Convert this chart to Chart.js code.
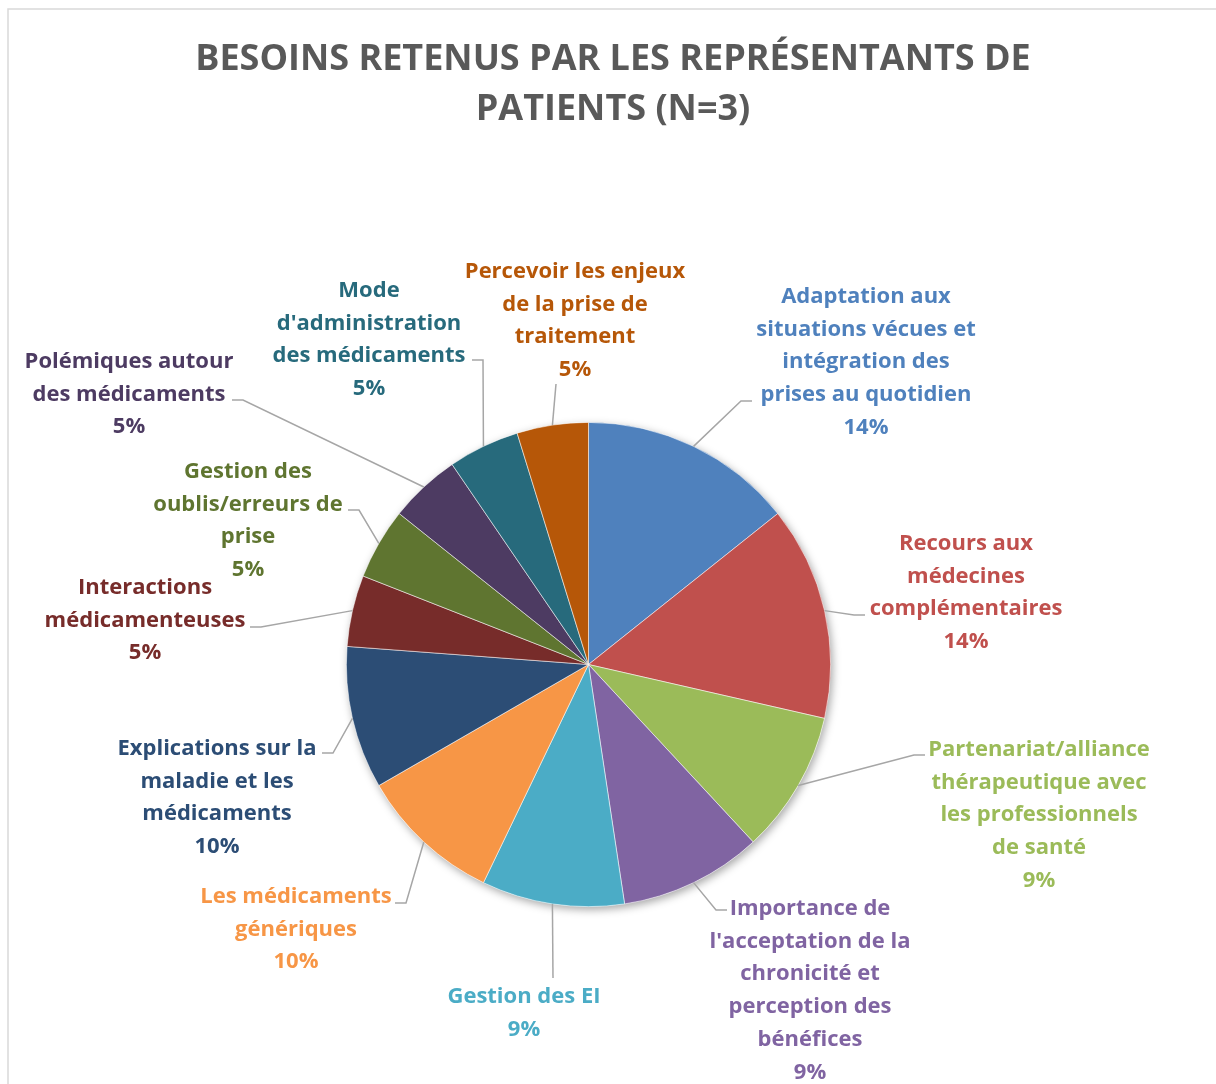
<!DOCTYPE html>
<html lang="fr">
<head>
<meta charset="utf-8">
<title>Besoins retenus par les représentants de patients</title>
<script src="https://cdn.jsdelivr.net/npm/chart.js@4.4.1/dist/chart.umd.min.js"></script>
<style>
  html, body { margin: 0; padding: 0; background: #fff; }
  #wrap { position: relative; width: 1216px; height: 1084px; }
</style>
</head>
<body>
<div id="wrap"><canvas id="besoinsChart"></canvas></div>
<script>
const titleLines = ["BESOINS RETENUS PAR LES REPRÉSENTANTS DE", "PATIENTS (N=3)"];

const categories = [
  ["Adaptation aux", "situations vécues et", "intégration des", "prises au quotidien"],
  ["Recours aux", "médecines", "complémentaires"],
  ["Partenariat/alliance", "thérapeutique avec", "les professionnels", "de santé"],
  ["Importance de", "l'acceptation de la", "chronicité et", "perception des", "bénéfices"],
  ["Gestion des EI"],
  ["Les médicaments", "génériques"],
  ["Explications sur la", "maladie et les", "médicaments"],
  ["Interactions", "médicamenteuses"],
  ["Gestion des", "oublis/erreurs de", "prise"],
  ["Polémiques autour", "des médicaments"],
  ["Mode", "d'administration", "des médicaments"],
  ["Percevoir les enjeux", "de la prise de", "traitement"],
];

// nombre de citations par besoin (total 21)
const counts = [3, 3, 2, 2, 2, 2, 2, 1, 1, 1, 1, 1];

// pourcentages tels qu'affichés sur le graphique
const percentLabels = ["14%", "14%", "9%", "9%", "9%", "10%", "10%", "5%", "5%", "5%", "5%", "5%"];

const sliceColors = [
  "#4F81BD", "#C0504D", "#9BBB59", "#8064A2", "#4BACC6", "#F79646",
  "#2C4D75", "#772C2A", "#5F7530", "#4D3B62", "#276A7C", "#B65708",
];

// where each label block sits (x centre, first baseline) and where its leader line attaches
// dir: -1 label right of elbow, +1 label left of elbow, 0 straight line
const labelLayout = [
  { x: 866, y: 303, anchor: [752, 401], dir: -1 },
  { x: 966, y: 550, anchor: [865, 615], dir: -1 },
  { x: 1039, y: 756, anchor: [925, 755], dir: -1 },
  { x: 810, y: 915, anchor: [727, 910], dir: -1 },
  { x: 524, y: 1003, anchor: [553, 978], dir: 0 },
  { x: 296, y: 903, anchor: [395, 903], dir: 1 },
  { x: 217, y: 755, anchor: [322, 753], dir: 1 },
  { x: 145, y: 594, anchor: [250, 627], dir: 1 },
  { x: 248, y: 478, anchor: [348, 510], dir: 1 },
  { x: 129, y: 368, anchor: [232, 400], dir: 1 },
  { x: 369, y: 297, anchor: [472, 360], dir: 1 },
  { x: 575, y: 278, anchor: [556, 384], dir: 0 },
];

const LABEL_FONT = "bold 22px 'Open Sans'";
const LINE_STEP = 32.7;

const pieDecor = {
  id: "pieDecor",
  beforeDraw(chart) {
    const ctx = chart.ctx;
    ctx.save();
    // chart frame (only top and left edges are visible)
    ctx.strokeStyle = "#D9D9D9";
    ctx.lineWidth = 1.5;
    ctx.beginPath();
    ctx.moveTo(8, chart.height);
    ctx.lineTo(8, 9);
    ctx.lineTo(chart.width, 9);
    ctx.stroke();

    ctx.fillStyle = "#595959";
    ctx.font = "bold 36px 'Open Sans'";
    ctx.textAlign = "center";
    ctx.textBaseline = "alphabetic";
    ctx.fillText(titleLines[0], 613, 70);
    ctx.fillText(titleLines[1], 613, 120);
    ctx.restore();
  },
  beforeDatasetsDraw(chart) {
    const arc = chart.getDatasetMeta(0).data[0];
    if (!arc) return;
    const ctx = chart.ctx;
    ctx.save();
    ctx.shadowColor = "rgba(0, 0, 0, 0.35)";
    ctx.shadowBlur = 8;
    ctx.shadowOffsetX = 2;
    ctx.shadowOffsetY = 3;
    ctx.fillStyle = "#ffffff";
    ctx.beginPath();
    ctx.arc(arc.x, arc.y, arc.outerRadius, 0, Math.PI * 2);
    ctx.fill();
    ctx.restore();
  },
  afterDatasetsDraw(chart) {
    const ctx = chart.ctx;
    const arcs = chart.getDatasetMeta(0).data;
    ctx.save();
    arcs.forEach((arc, i) => {
      const lay = labelLayout[i];
      const mid = (arc.startAngle + arc.endAngle) / 2;
      const px = arc.x + Math.cos(mid) * arc.outerRadius;
      const py = arc.y + Math.sin(mid) * arc.outerRadius;

      ctx.strokeStyle = "#A6A6A6";
      ctx.lineWidth = 1.5;
      ctx.beginPath();
      ctx.moveTo(px, py);
      if (lay.dir !== 0) {
        ctx.lineTo(lay.anchor[0] + lay.dir * 11, lay.anchor[1]);
      }
      ctx.lineTo(lay.anchor[0], lay.anchor[1]);
      ctx.stroke();

      ctx.fillStyle = sliceColors[i];
      ctx.font = LABEL_FONT;
      ctx.textAlign = "center";
      ctx.textBaseline = "alphabetic";
      const lines = [...categories[i], percentLabels[i]];
      lines.forEach((line, j) => {
        ctx.fillText(line, lay.x, lay.y + j * LINE_STEP);
      });
    });
    ctx.restore();
  },
};

(function () {
  const ctx = document.getElementById("besoinsChart");
  new Chart(ctx, {
    type: "pie",
    data: {
      labels: categories,
      datasets: [
        {
          data: counts,
          backgroundColor: sliceColors,
          borderColor: "rgba(255, 255, 255, 0.7)",
          borderWidth: 0.75,
        },
      ],
    },
    options: {
      responsive: true,
      maintainAspectRatio: false,
      animation: false,
      layout: {
        padding: { left: 346, top: 422, right: 385, bottom: 177 },
      },
      plugins: {
        legend: { display: false },
        title: { display: false },
        tooltip: { enabled: true },
      },
    },
    plugins: [pieDecor],
  });
})();
</script>
</body>
</html>
